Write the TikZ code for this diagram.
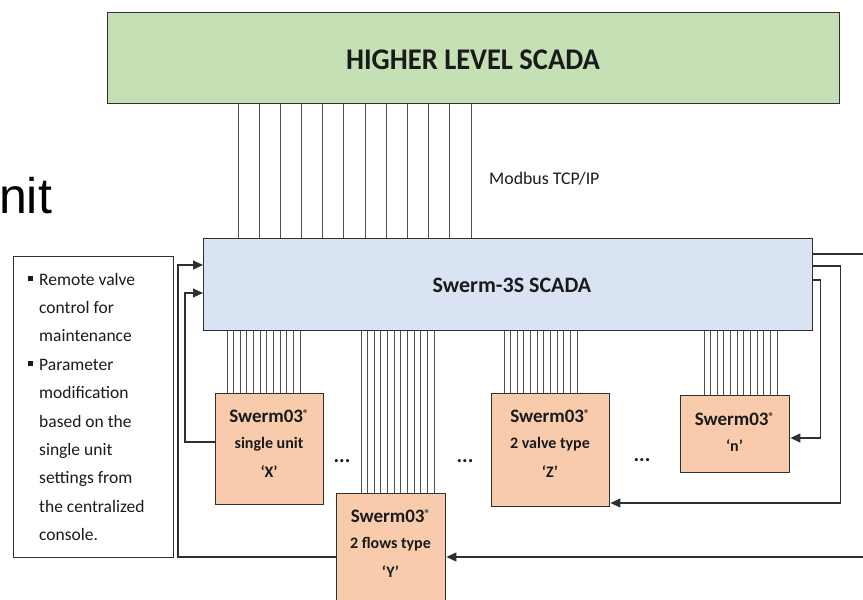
\documentclass[tikz,border=0pt]{standalone}
\usepackage{fontspec}
\usepackage{graphicx}
\setmainfont{Carlito}
\newfontfamily\arialf{Liberation Sans}
\usetikzlibrary{arrows.meta,calc}
\definecolor{cgreen}{HTML}{C5E0B4}
\definecolor{cblue}{HTML}{DAE3F3}
\definecolor{corange}{HTML}{F8CBAD}
\definecolor{cedge}{HTML}{303030}
\definecolor{cline}{HTML}{505050}
\definecolor{ctext}{HTML}{1A1A1A}
\newcommand\notebul{\makebox[11pt][l]{\raisebox{4pt}{\rule{5pt}{5pt}}}}
\newcommand\noteind{\hspace*{11pt}}
\newcommand\regm{\raisebox{5pt}{\fontsize{11}{11}\selectfont ®}}
\begin{document}
\begin{tikzpicture}[x=1pt,y=-1pt,
  box/.style={draw=cedge,line width=1.4pt,inner sep=0pt,anchor=north west},
  unitbox/.style={box,fill=corange},
  bus/.style={draw=cline,line width=0.9pt},
  fb/.style={draw=cedge,line width=1.1pt,-{Triangle[length=10pt,width=9pt]}},
  utext/.style={anchor=base,text=ctext,inner sep=0pt,font={\bfseries\fontsize{16}{26}\selectfont}},
  dots/.style={anchor=base,text=ctext,inner sep=0pt,font={\bfseries\fontsize{21}{21}\selectfont}},
]
\path[use as bounding box] (0,0) rectangle (863,600);
\clip (0,0) rectangle (863,600);

% fragment of slide title
\node[anchor=base west,inner sep=0pt,text=black,font={\arialf\fontsize{50}{50}\selectfont}] (ttl) at (-1,213) {nit};

% main boxes
\node[box,fill=cgreen,minimum width=732pt,minimum height=91pt] (hl) at (107,12) {};
\node[anchor=base,inner sep=0pt,text=ctext,font={\bfseries\fontsize{30}{30}\selectfont}] (hlt) at (473,69) {\scalebox{0.95}[1]{HIGHER LEVEL SCADA}};
\node[box,fill=cblue,minimum width=609pt,minimum height=92pt] (sc) at (203,238) {};
\node[anchor=base,inner sep=0pt,text=ctext,font={\bfseries\fontsize{22}{22}\selectfont}] (sct) at (512,292) {Swerm-3S SCADA};
\node[anchor=base west,inner sep=0pt,text=ctext,font={\fontsize{17.8}{20}\selectfont}] (mb) at (489,184) {Modbus TCP/IP};

% note box
\node[box,draw=cedge,line width=1.2pt,minimum width=160pt,minimum height=301pt] (note) at (13,256) {};
\node[anchor=base west,inner sep=0pt,text=ctext,font={\fontsize{17.5}{28.4}\selectfont}] (notet) at (28,285) {\begin{tabular}[t]{@{}l@{}}
\notebul Remote valve\\
\noteind control for\\
\noteind maintenance\\
\notebul Parameter\\
\noteind modification\\
\noteind based on the\\
\noteind single unit\\
\noteind settings from\\
\noteind the centralized\\
\noteind console.
\end{tabular}};

% unit boxes
\node[unitbox,minimum width=108pt,minimum height=111pt] (X) at (215,393) {};
\node[unitbox,minimum width=109pt,minimum height=130pt] (Y) at (336,493) {};
\node[unitbox,minimum width=118pt,minimum height=113pt] (Z) at (491,393) {};
\node[unitbox,minimum width=109pt,minimum height=77pt] (N) at (680,395) {};

\node[utext] (Xt) at ($(X.north west)+(54,29)$) {\begin{tabular}[t]{@{}c@{}}{\fontsize{19}{26}\selectfont Swerm03\regm}\\ single unit\\[3pt] ‘X’\end{tabular}};
\node[utext] (Yt) at ($(Y.north west)+(54.5,29)$) {\begin{tabular}[t]{@{}c@{}}{\fontsize{19}{26}\selectfont Swerm03\regm}\\ 2 flows type\\[3pt] ‘Y’\end{tabular}};
\node[utext] (Zt) at ($(Z.north west)+(59,29)$) {\begin{tabular}[t]{@{}c@{}}{\fontsize{19}{26}\selectfont Swerm03\regm}\\ 2 valve type\\[3pt] ‘Z’\end{tabular}};
\node[utext] (Nt) at ($(N.north west)+(54.5,30)$) {\begin{tabular}[t]{@{}c@{}}{\fontsize{19}{23}\selectfont Swerm03\regm}\\ ‘n’\end{tabular}};

\node[dots] (d1) at (342,462) {...};
\node[dots] (d2) at (465,462) {...};
\node[dots] (d3) at (642,461) {...};

% buses
\foreach \i in {0,...,11} {
  \draw[bus] ($(hl.south west)+(131+21.18*\i,0)$) -- ($(sc.north west)+(35+21.18*\i,0)$);
  \draw[bus] ($(sc.south west)+(24+6.64*\i,0)$) -- ($(X.north west)+(12+6.64*\i,0)$);
  \draw[bus] ($(sc.south west)+(158+6.64*\i,0)$) -- ($(Y.north west)+(25+6.64*\i,0)$);
  \draw[bus] ($(sc.south west)+(301+6.64*\i,0)$) -- ($(Z.north west)+(13+6.64*\i,0)$);
  \draw[bus] ($(sc.south west)+(501+6.64*\i,0)$) -- ($(N.north west)+(24+6.64*\i,0)$);
}

% feedback / command connectors
\coordinate (a1) at ($(sc.north west)+(0,27)$);
\coordinate (a2) at ($(sc.north west)+(0,55)$);
\coordinate (b1) at ($(sc.north east)+(0,16)$);
\coordinate (b2) at ($(sc.north east)+(0,28)$);
\coordinate (b3) at ($(sc.north east)+(0,42)$);
\coordinate (xo) at ($(X.north west)+(0,49)$);
\coordinate (yo) at ($(Y.north west)+(0,64)$);
\coordinate (yi) at ($(Y.north east)+(0,64)$);
\coordinate (zi) at ($(Z.north east)+(0,110)$);
\coordinate (ni) at ($(N.north east)+(0,43)$);

\draw[fb] (yo) -| ($(a1)+(-25,0)$) -- (a1);
\draw[fb] (xo) -| ($(a2)+(-18,0)$) -- (a2);
\draw[fb] (b1) -- ++(70,0) |- (yi);
\draw[fb] (b2) -- ++(27,0) |- (zi);
\draw[fb] (b3) -- ++(7,0) |- (ni);
\end{tikzpicture}
\end{document}
